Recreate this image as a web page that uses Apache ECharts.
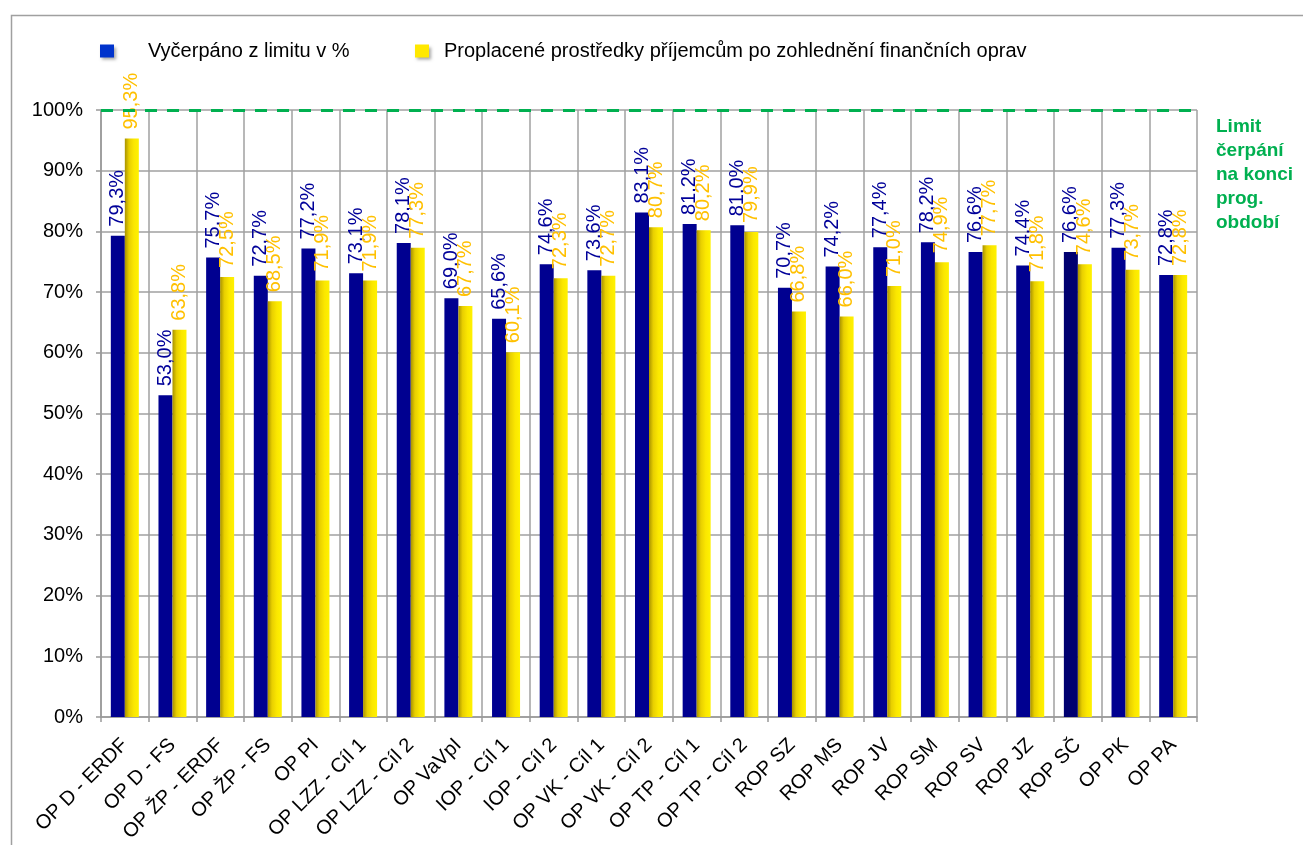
<!DOCTYPE html>
<html>
<head>
<meta charset="utf-8">
<script src="https://cdn.jsdelivr.net/npm/echarts@6/dist/echarts.min.js"></script>
<style>
  html, body { margin: 0; padding: 0; background: #fff; }
  #chart { width: 1303px; height: 845px; }
</style>
</head>
<body>
<div id="chart"></div>
<script>
const categories = [
  'OP D - ERDF', 'OP D - FS', 'OP ŽP - ERDF', 'OP ŽP - FS', 'OP PI',
  'OP LZZ - Cíl 1', 'OP LZZ - Cíl 2', 'OP VaVpI', 'IOP - Cíl 1', 'IOP - Cíl 2',
  'OP VK - Cíl 1', 'OP VK - Cíl 2', 'OP TP - Cíl 1', 'OP TP - Cíl 2', 'ROP SZ',
  'ROP MS', 'ROP JV', 'ROP SM', 'ROP SV', 'ROP JZ', 'ROP SČ', 'OP PK', 'OP PA'
];
const vycerpano = [
  79.3, 53.0, 75.7, 72.7, 77.2, 73.1, 78.1, 69.0, 65.6, 74.6,
  73.6, 83.1, 81.2, 81.0, 70.7, 74.2, 77.4, 78.2, 76.6, 74.4, 76.6, 77.3, 72.8
];
const proplacene = [
  95.3, 63.8, 72.5, 68.5, 71.9, 71.9, 77.3, 67.7, 60.1, 72.3,
  72.7, 80.7, 80.2, 79.9, 66.8, 66.0, 71.0, 74.9, 77.7, 71.8, 74.6, 73.7, 72.8
];
const limitValue = 100;
const yTicks = { min: 0, max: 100, interval: 10 };

const nameBlue = 'Vyčerpáno z limitu v %';
const nameYellow = 'Proplacené prostředky příjemcům po zohlednění finančních oprav';
const font = "'Liberation Sans', Arial, sans-serif";

const fmt = (p) => p.value.toFixed(1).replace('.', ',') + '%';
const iconShadow = { shadowColor: 'rgba(0,0,0,0.35)', shadowBlur: 3, shadowOffsetX: 2, shadowOffsetY: 2 };

const chart = echarts.init(document.getElementById('chart'));
chart.setOption({
  animation: false,
  textStyle: { fontFamily: font },
  grid: { left: 101, right: 106, top: 110, bottom: 128 },
  legend: [
    {
      data: [{ name: nameBlue, icon: 'rect', itemStyle: Object.assign({ color: '#0033cc' }, iconShadow) }],
      left: 100, top: 41, padding: 0, itemWidth: 14, itemHeight: 13,
      textStyle: { fontSize: 20, color: '#000', padding: [0, 0, 0, 29] }
    },
    {
      data: [{ name: nameYellow, icon: 'rect', itemStyle: Object.assign({ color: '#ffe800' }, iconShadow) }],
      left: 415, top: 41, padding: 0, itemWidth: 14, itemHeight: 13,
      textStyle: { fontSize: 20, color: '#000', padding: [0, 0, 0, 10] }
    }
  ],
  xAxis: {
    type: 'category',
    data: categories,
    axisLine: { lineStyle: { color: '#999', width: 1.5 } },
    axisTick: { show: true, length: 5, lineStyle: { color: '#999', width: 1.5 } },
    splitLine: { show: true, lineStyle: { color: '#a0a0a0', width: 1.5 } },
    axisLabel: { rotate: 45, interval: 0, fontSize: 20, color: '#000', margin: 25 }
  },
  yAxis: {
    type: 'value',
    min: yTicks.min, max: yTicks.max, interval: yTicks.interval,
    axisLine: { show: true, lineStyle: { color: '#999', width: 1.5 } },
    axisTick: { show: true, length: 5, lineStyle: { color: '#999', width: 1.5 } },
    splitLine: { lineStyle: { color: '#a0a0a0', width: 1.5 } },
    axisLabel: { formatter: '{value}%', fontSize: 20, color: '#000', margin: 18 }
  },
  series: [
    {
      name: nameBlue,
      type: 'bar',
      barWidth: 14,
      barGap: '0%',
      data: vycerpano.map((v, i) => categories[i] === 'ROP SČ' ? { value: v, itemStyle: { color: '#000070' } } : v),
      itemStyle: { color: '#000090' },
      label: {
        show: true, position: 'top', rotate: 90, align: 'left', verticalAlign: 'middle',
        distance: 9, fontSize: 20, color: '#000099', formatter: fmt
      },
      markLine: {
        silent: true,
        symbol: 'none',
        label: { show: false },
        lineStyle: { color: '#00b050', width: 3, type: [12, 10] },
        data: [{ yAxis: limitValue }]
      }
    },
    {
      name: nameYellow,
      type: 'bar',
      barWidth: 14,
      data: proplacene,
      itemStyle: {
        color: new echarts.graphic.LinearGradient(0, 0, 1, 0, [
          { offset: 0, color: '#a89200' },
          { offset: 0.3, color: '#e8cf00' },
          { offset: 0.65, color: '#fbe700' },
          { offset: 1, color: '#fff200' }
        ])
      },
      label: {
        show: true, position: 'top', rotate: 90, align: 'left', verticalAlign: 'middle',
        distance: 9, fontSize: 20, color: '#ffc000', formatter: fmt
      }
    }
  ],
  graphic: [
    {
      type: 'rect', left: 9, top: 13, silent: true,
      shape: { width: 1400, height: 900 },
      style: { fill: 'none', stroke: '#a0a0a0', lineWidth: 1.5 }
    },
    {
      type: 'text', left: 1216, top: 115,
      style: {
        text: 'Limit\nčerpání\nna konci\nprog.\nobdobí',
        font: "bold 19px 'Liberation Sans', Arial, sans-serif",
        fill: '#00b050', lineHeight: 24
      }
    }
  ]
});
</script>
</body>
</html>
